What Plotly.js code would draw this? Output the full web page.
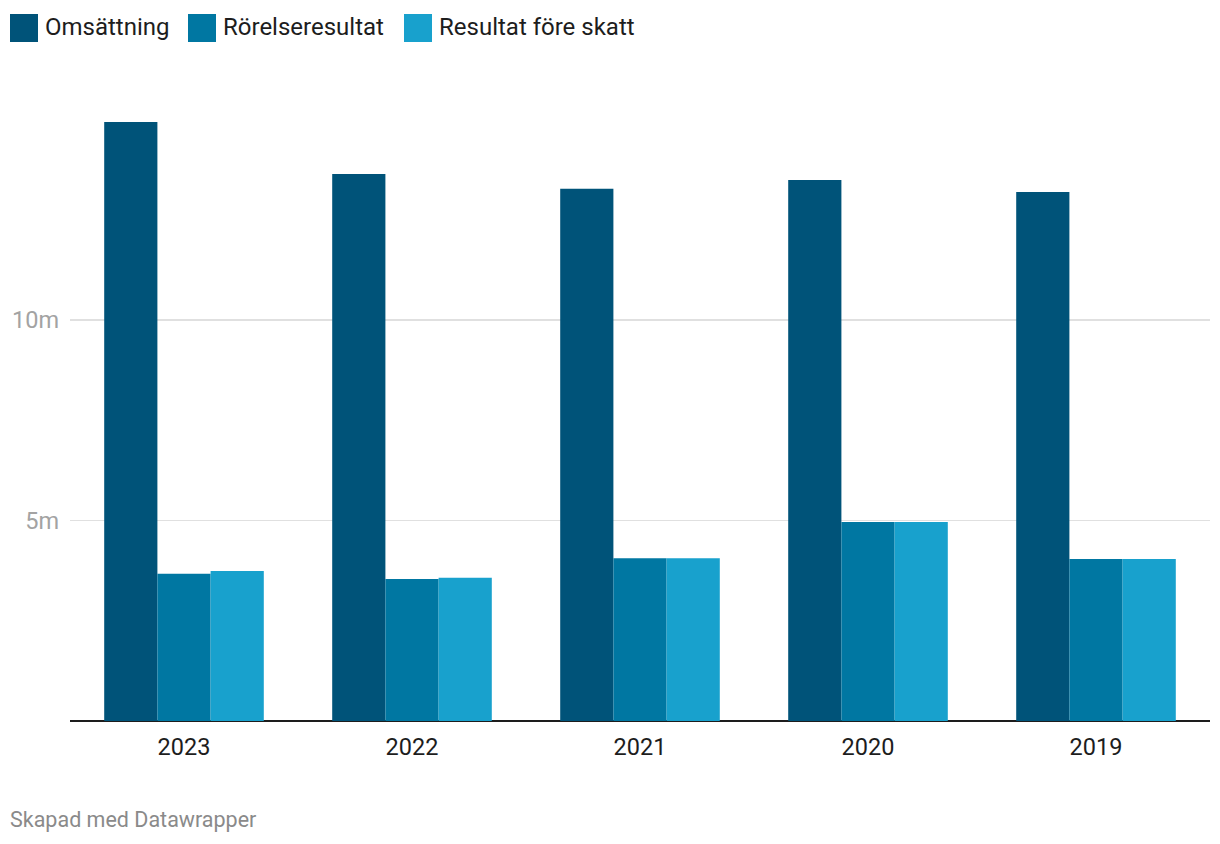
<!DOCTYPE html>
<html>
<head>
<meta charset="utf-8">
<script src="https://cdn.plot.ly/plotly-3.0.1.min.js"></script>
<style>
html,body{margin:0;padding:0;background:#fff;}
#chart{width:1220px;height:844px;}
</style>
</head>
<body>
<div id="chart"></div>
<script>
const years = ["2023", "2022", "2021", "2020", "2019"];
const seriesNames = ["Omsättning", "Rörelseresultat", "Resultat före skatt"];
const omsattning = [14940000, 13640000, 13270000, 13490000, 13190000];
const rorelseresultat = [3670000, 3540000, 4060000, 4960000, 4040000];
const resultatForeSkatt = [3740000, 3570000, 4060000, 4960000, 4040000];
const tickVals = [5000000, 10000000];
const tickText = ["5m", "10m"];
const colors = ["#005379", "#0077a2", "#18a1cd"];

const seriesValues = [omsattning, rorelseresultat, resultatForeSkatt];
const traces = seriesValues.map((vals, i) => ({
  type: "bar",
  x: years,
  y: vals,
  name: seriesNames[i],
  marker: {color: colors[i], line: {width: 0}},
  hoverinfo: "x+y+name"
}));

const W = 1220, H = 844;
const shapes = [];
const annotations = [];
// custom legend
const legendX = [10, 188, 404];
seriesNames.forEach((n, i) => {
  const x0 = legendX[i];
  shapes.push({type: "rect", xref: "paper", yref: "paper",
    x0: (x0 - 70) / 1140, x1: (x0 + 28 - 70) / 1140,
    y0: (721 - 42) / 621, y1: (721 - 14) / 621,
    fillcolor: colors[i], line: {width: 0}, layer: "above"});
  annotations.push({xref: "paper", yref: "paper",
    x: (x0 + 33 - 70) / 1140, y: (721 - 27) / 621,
    xanchor: "left", yanchor: "middle", showarrow: false,
    text: n, font: {family: "Roboto", size: 24, color: "#1d1d1d"}});
});
annotations.push({xref: "paper", yref: "paper",
  x: (8 - 70) / 1140, y: (721 - 819) / 621,
  xanchor: "left", yanchor: "middle", showarrow: false,
  text: "Skapad med Datawrapper", font: {family: "Roboto", size: 21.5, color: "#8a8a8a"}});

const layout = {
  width: W, height: H,
  margin: {l: 70, r: 10, t: 100, b: 123},
  paper_bgcolor: "#fff", plot_bgcolor: "#fff",
  font: {family: "Roboto", color: "#1d1d1d"},
  showlegend: false,
  barmode: "group",
  bargap: 0.3,
  bargroupgap: 0,
  xaxis: {
    type: "category",
    showgrid: false, showline: false, zeroline: false,
    ticks: "", tickfont: {family: "Roboto", size: 23.5, color: "#1d1d1d"},
    ticklabelstandoff: 9
  },
  yaxis: {
    range: [0, 15486000],
    tickvals: tickVals, ticktext: tickText,
    showgrid: true, gridcolor: "#e0e0e0", gridwidth: 1.5,
    zeroline: true, zerolinecolor: "#1d1d1d", zerolinewidth: 2,
    showline: false, ticks: "",
    tickfont: {family: "Roboto", size: 23.5, color: "#a3a3a3"},
    ticklabelstandoff: 10
  },
  shapes: shapes,
  annotations: annotations
};

Plotly.newPlot("chart", traces, layout, {displayModeBar: false, staticPlot: true});
</script>
</body>
</html>
